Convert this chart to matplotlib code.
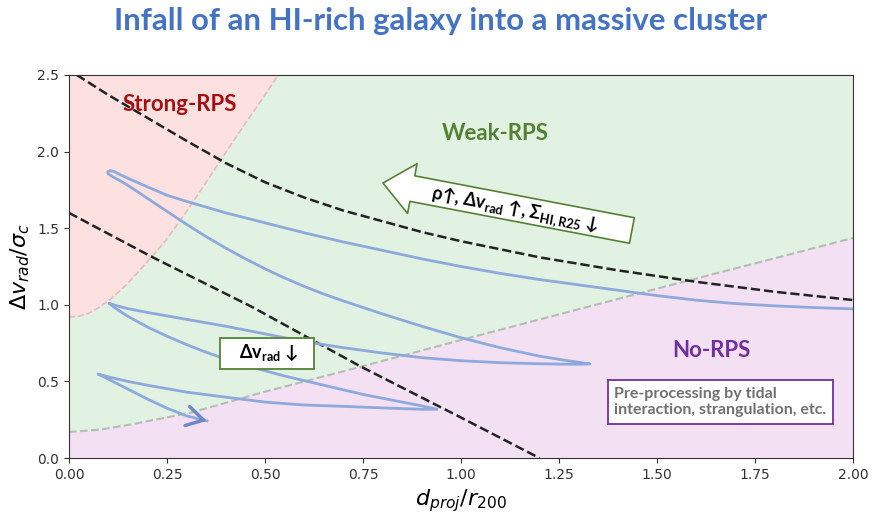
import numpy as np
import matplotlib.pyplot as plt

plt.rcParams['mathtext.fontset'] = 'dejavusans'
plt.rcParams['mathtext.rm'] = 'Lato:bold'
plt.rcParams['mathtext.it'] = 'Lato:bold:italic'
plt.rcParams['mathtext.bf'] = 'Lato:bold'
plt.rcParams['mathtext.fallback'] = 'stixsans'

# regime boundaries
strong_x = [0.0, 0.025, 0.05, 0.075, 0.1, 0.125, 0.15, 0.2, 0.25, 0.3, 0.35, 0.4, 0.45, 0.5, 0.534]
strong_y = [0.92, 0.925, 0.945, 0.98, 1.025, 1.08, 1.14, 1.28, 1.43, 1.61, 1.80, 1.995, 2.185, 2.37, 2.5]
weak_x = [0.0, 0.08, 0.16, 0.25, 0.316, 0.40, 0.487, 0.742, 1.0, 1.5, 2.0]
weak_y = [0.17, 0.185, 0.22, 0.265, 0.30, 0.36, 0.424, 0.594, 0.77, 1.105, 1.436]

# dashed curves
upper_x = [0.02, 0.1, 0.2, 0.3, 0.4, 0.5, 0.6, 0.7, 0.8, 0.9, 1.0, 1.2, 1.4, 1.6, 1.8, 2.0]
upper_y = [2.5, 2.37, 2.22, 2.07, 1.925, 1.80, 1.70, 1.615, 1.545, 1.475, 1.415, 1.31, 1.225, 1.15, 1.085, 1.031]
lower_x = [0.0, 0.212, 0.467, 0.742, 0.997, 1.2]
lower_y = [1.6, 1.312, 0.986, 0.600, 0.268, 0.0]

# orbit of the galaxy (outer arc in, then successive passages)
orbit_x = [2.0, 1.9, 1.8, 1.7, 1.6, 1.5, 1.4, 1.3, 1.2, 1.1, 1.0, 0.9, 0.8, 0.7, 0.6, 0.5, 0.4, 0.3,
           0.25, 0.2, 0.16, 0.13, 0.115, 0.105, 0.099, 0.1, 0.11, 0.13, 0.15,
           0.171, 0.2, 0.25, 0.3, 0.35, 0.4, 0.45, 0.5, 0.55, 0.6, 0.65, 0.7, 0.8, 0.9, 1.0, 1.1, 1.2,
           1.26, 1.3, 1.329,
           1.3, 1.25, 1.2, 1.1, 1.0, 0.9, 0.8, 0.7, 0.6, 0.5, 0.4, 0.3, 0.2, 0.15, 0.12, 0.102,
           0.12, 0.15, 0.2, 0.25, 0.3, 0.35, 0.4, 0.45, 0.5, 0.55, 0.6, 0.65, 0.7, 0.75, 0.8, 0.85,
           0.9, 0.939,
           0.9, 0.8, 0.7, 0.6, 0.5, 0.4, 0.3, 0.2, 0.15, 0.1, 0.074,
           0.1, 0.15, 0.2, 0.25, 0.3, 0.352]
orbit_y = [0.973, 0.982, 0.993, 1.008, 1.03, 1.06, 1.095, 1.13, 1.165, 1.205, 1.25, 1.30, 1.355, 1.41,
           1.47, 1.535, 1.60, 1.675, 1.715, 1.77, 1.815, 1.85, 1.87, 1.876, 1.868, 1.855, 1.838, 1.81,
           1.78, 1.745, 1.695, 1.61, 1.525, 1.445, 1.37, 1.30, 1.235, 1.175, 1.12, 1.07, 1.025, 0.94,
           0.86, 0.785, 0.72, 0.665, 0.64, 0.625, 0.614,
           0.612, 0.613, 0.615, 0.622, 0.635, 0.655, 0.685, 0.72, 0.76, 0.81, 0.86, 0.905, 0.95,
           0.975, 0.995, 1.01,
           0.975, 0.925, 0.855, 0.795, 0.74, 0.69, 0.645, 0.605, 0.57, 0.535, 0.505, 0.475, 0.445,
           0.415, 0.39, 0.365, 0.34, 0.318,
           0.318, 0.327, 0.337, 0.346, 0.365, 0.397, 0.43, 0.475, 0.50, 0.53, 0.548,
           0.515, 0.45, 0.385, 0.325, 0.275, 0.242]

green = '#548235'
purple = '#7030a0'

fig = plt.figure(figsize=(8.72, 5.16), dpi=100)
ax = fig.add_axes([0.0791, 0.1124, 0.8991, 0.7423])
ax.set_facecolor('#e1f1e2')

ax.fill_between(weak_x, 0, weak_y, color='#f3e1f3', lw=0)
ax.fill_between(strong_x, strong_y, 2.5, color='#fde1e1', lw=0)
ax.plot(weak_x, weak_y, ls='--', color='gray', alpha=0.45, lw=1.5)
ax.plot(strong_x, strong_y, ls='--', color='#c89a9a', alpha=0.5, lw=1.2)

ax.plot(upper_x, upper_y, ls='--', color='#222222', lw=1.8)
ax.plot(lower_x, lower_y, ls='--', color='#222222', lw=1.8)

ax.plot(orbit_x, orbit_y, color='#8eaadc', lw=2, solid_joinstyle='round')
tip = np.array([orbit_x[-1], orbit_y[-1]])
prev = np.array([orbit_x[-2], orbit_y[-2]])
ax.annotate('', xy=tip, xytext=tip - 0.3 * (tip - prev),
            arrowprops=dict(arrowstyle='->,head_length=0.6,head_width=0.35', lw=2.5,
                            color='#6f89c8', mutation_scale=20, shrinkA=0, shrinkB=0))

ax.text(0.283, 2.31, 'Strong-RPS', color='#a50f0f', fontsize=16, fontweight='bold',
        family='Lato', ha='center', va='center')
ax.text(1.088, 2.12, 'Weak-RPS', color=green, fontsize=16, fontweight='bold',
        family='Lato', ha='center', va='center')
ax.text(1.638, 0.70, 'No-RPS', color=purple, fontsize=16, fontweight='bold',
        family='Lato', ha='center', va='center')
ax.text(1.661, 0.366, 'Pre-processing by tidal\ninteraction, strangulation, etc.',
        color='#707070', fontsize=11.5, fontweight='bold', family='Lato',
        ha='center', va='center', multialignment='left', linespacing=1.25,
        bbox=dict(boxstyle='square,pad=0.4', fc='white', ec=purple, lw=1.3))

ax.text(0.505, 0.685, r'   Δv$_{\mathrm{rad}}$ ↓   ', fontsize=13, fontweight='bold',
        family=['Lato', 'DejaVu Sans'], math_fontfamily='custom', ha='center', va='center',
        bbox=dict(boxstyle='square,pad=0.3', fc='white', ec=green, lw=1.3))

# block arrow towards the cluster centre
ax.annotate('', xy=(0.801, 1.795), xytext=(1.436, 1.485),
            arrowprops=dict(arrowstyle='simple,head_length=1.15,head_width=1.95,tail_width=1.0',
                            mutation_scale=18.7, fc='white', ec=green, lw=1.2,
                            shrinkA=0, shrinkB=0))
ax.text(1.138, 1.619, r'ρ↑, Δv$_{\mathrm{rad}}$ ↑, Σ$_{\mathrm{HI,R25}}$ ↓', fontsize=13,
        fontweight='bold', family=['Lato', 'DejaVu Sans'], math_fontfamily='custom',
        rotation=-11, rotation_mode='anchor', ha='center', va='center')

ax.set_xlim(0, 2.0)
ax.set_ylim(0, 2.5)
ax.set_xticks(np.arange(0, 2.01, 0.25))
ax.set_yticks(np.arange(0, 2.51, 0.5))
ax.tick_params(labelsize=10, labelcolor='#333333', color='#333333')
for s in ax.spines.values():
    s.set_color('#333333')
ax.set_xlabel(r'$d_{proj}/r_{200}$', fontsize=16)
ax.set_ylabel(r'$\Delta v_{rad}/\sigma_c$', fontsize=16)

fig.text(0.505, 1 - 21 / 516, 'Infall of an HI-rich galaxy into a massive cluster',
         color='#4472c4', fontsize=22.4, fontweight='bold', family='Lato',
         ha='center', va='center')

fig.savefig('out.png', dpi=100)
